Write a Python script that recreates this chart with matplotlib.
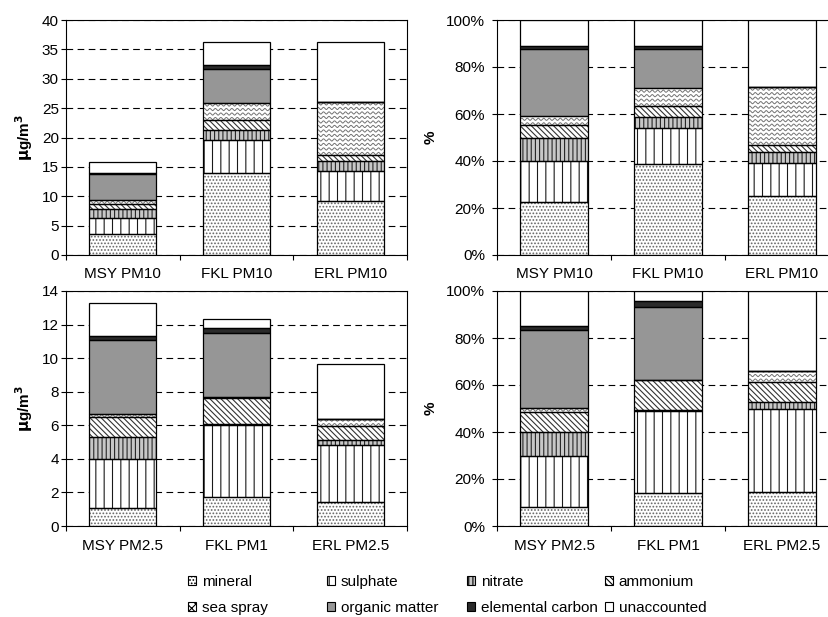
import numpy as np
import matplotlib
matplotlib.use('Agg')
from matplotlib import pyplot
from matplotlib.patches import Patch
from matplotlib.ticker import MultipleLocator, PercentFormatter, FixedLocator, NullFormatter

pyplot.rcParams['font.family'] = ['Liberation Sans', 'DejaVu Sans']
pyplot.rcParams['hatch.linewidth'] = 0.8

# Components (µg/m3)
components = ['mineral', 'sulphate', 'nitrate', 'ammonium',
              'sea spray', 'organic matter', 'elemental carbon', 'unaccounted']

pm10_sites = ['MSY PM10', 'FKL PM10', 'ERL PM10']
pm10 = {
    'mineral':          [3.56, 13.97, 9.17],
    'sulphate':         [2.72, 5.66, 5.09],
    'nitrate':          [1.58, 1.64, 1.69],
    'ammonium':         [0.85, 1.70, 1.08],
    'sea spray':        [0.62, 2.83, 8.94],
    'organic matter':   [4.47, 5.94, 0.0],
    'elemental carbon': [0.23, 0.56, 0.0],
    'unaccounted':      [1.75, 3.97, 10.30],
}

fine_sites = ['MSY PM2.5', 'FKL PM1', 'ERL PM2.5']
fine = {
    'mineral':          [1.05, 1.71, 1.41],
    'sulphate':         [2.92, 4.32, 3.39],
    'nitrate':          [1.35, 0.06, 0.32],
    'ammonium':         [1.15, 1.55, 0.83],
    'sea spray':        [0.19, 0.04, 0.44],
    'organic matter':   [4.41, 3.80, 0.0],
    'elemental carbon': [0.23, 0.34, 0.0],
    'unaccounted':      [1.99, 0.50, 3.29],
}

# face colour, hatch, hatch colour
styles = {
    'mineral':          ('white', '.....', '0.4'),
    'sulphate':         ('white', '||', '0.1'),
    'nitrate':          ('0.78', '||||', '0.15'),
    'ammonium':         ('white', '\\\\\\\\\\\\', '0.2'),
    'sea spray':        ('white', None, '0.45'),
    'organic matter':   ('#969696', None, '#969696'),
    'elemental carbon': ('#2b2b2b', None, '#2b2b2b'),
    'unaccounted':      ('white', None, 'white'),
}

W, H = 829, 617
BAR_W = 0.59
FS = 11


def add_waves(ax, bars):
  # wavy texture for sea spray, clipped to each bar
  inv = ax.transData.inverted()
  for bar in bars:
    if bar.get_height() <= 0:
      continue
    px0, py0 = ax.transData.transform((bar.get_x(), bar.get_y()))
    px1, py1 = ax.transData.transform((bar.get_x() + bar.get_width(),
                                       bar.get_y() + bar.get_height()))
    xs = np.linspace(px0, px1, 300)
    for py in np.arange(py0 + 1.5, py1 + 3, 4.5):
      ys = py + 1.1 * np.sin(2 * np.pi * (xs - px0) / 5.5)
      pts = inv.transform(np.column_stack([xs, ys]))
      line, = ax.plot(pts[:, 0], pts[:, 1], color='0.45', lw=0.7, zorder=2.5)
      line.set_clip_path(bar)


def draw_panel(ax, sites, data, percent=False):
  x = np.arange(len(sites))
  values = np.array([data[c] for c in components])
  if percent:
    values = values / values.sum(axis=0)
  ax.set_xlim(-0.5, len(sites) - 0.5)
  if percent:
    ax.set_ylim(0, 1)
    ax.yaxis.set_major_locator(MultipleLocator(0.2))
    ax.yaxis.set_major_formatter(PercentFormatter(1.0, decimals=0))
  bottom = np.zeros(len(sites))
  wave_bars = None
  for comp, vals in zip(components, values):
    face, hatch, hcol = styles[comp]
    bars = ax.bar(x, vals, BAR_W, bottom=bottom, color=face, hatch=hatch,
                  edgecolor=hcol, linewidth=0, zorder=2)
    ax.bar(x, vals, BAR_W, bottom=bottom, fill=False, edgecolor='black',
           linewidth=0.9, zorder=3)
    if comp == 'sea spray':
      wave_bars = bars
    bottom += vals
  ax.set_axisbelow(True)
  ax.yaxis.grid(True, color='black', linestyle=(0, (6, 4)), linewidth=0.8)
  ax.xaxis.set_major_locator(FixedLocator(np.arange(len(sites) + 1) - 0.5))
  ax.xaxis.set_major_formatter(NullFormatter())
  ax.xaxis.set_minor_locator(FixedLocator(x))
  ax.set_xticklabels(sites, minor=True)
  ax.tick_params(axis='x', which='major', direction='out', length=3.6,
                 width=0.8)
  ax.tick_params(axis='x', which='minor', length=0, pad=9, labelsize=FS)
  ax.tick_params(axis='y', direction='out', length=3.6, width=0.8,
                 pad=5 if percent else 1.5, labelsize=FS)
  for sp in ax.spines.values():
    sp.set_linewidth(0.8)
  return wave_bars


fig = pyplot.figure(figsize=(W / 100, H / 100), dpi=100)


def rect(l, r, t, b):
  return [l / W, 1 - b / H, (r - l) / W, (b - t) / H]


ax1 = fig.add_axes(rect(66, 407, 20, 255))
ax2 = fig.add_axes(rect(497, 839, 20, 255))
ax3 = fig.add_axes(rect(66, 407, 291, 526))
ax4 = fig.add_axes(rect(497, 839, 291, 526))

ax1.set_ylim(0, 40)
ax1.yaxis.set_major_locator(MultipleLocator(5))
ax3.set_ylim(0, 14)
ax3.yaxis.set_major_locator(MultipleLocator(2))

waves = [
    (ax1, draw_panel(ax1, pm10_sites, pm10)),
    (ax2, draw_panel(ax2, pm10_sites, pm10, percent=True)),
    (ax3, draw_panel(ax3, fine_sites, fine)),
    (ax4, draw_panel(ax4, fine_sites, fine, percent=True)),
]
for ax, bars in waves:
  add_waves(ax, bars)

for ax in (ax1, ax3):
  ax.set_ylabel(r'$\mathbf{\mu}$g/m$^\mathbf{3}$', fontsize=FS,
                fontweight='bold', labelpad=5)
for ax in (ax2, ax4):
  ax.set_ylabel('%', fontsize=FS, fontweight='bold', labelpad=6)

# legend: one small legend per column so the columns sit evenly spaced
handles = {}
for comp in components:
  face, hatch, hcol = styles[comp]
  if comp == 'sea spray':
    hatch = 'xxxx'
  handles[comp] = Patch(facecolor=face, hatch=hatch, edgecolor='black',
                        linewidth=0.8, label=comp)
col_left = [188, 327, 467, 605]
for i, xl in enumerate(col_left):
  pair = [components[i], components[i + 4]]
  fig.legend([handles[c] for c in pair], pair, loc='center left',
             bbox_to_anchor=(xl / W, 1 - 595 / H), frameon=False,
             fontsize=FS, handlelength=0.5, handleheight=0.5,
             handletextpad=0.4, borderpad=0, borderaxespad=0,
             labelspacing=0.75)

fig.savefig('out.png', dpi=100)
